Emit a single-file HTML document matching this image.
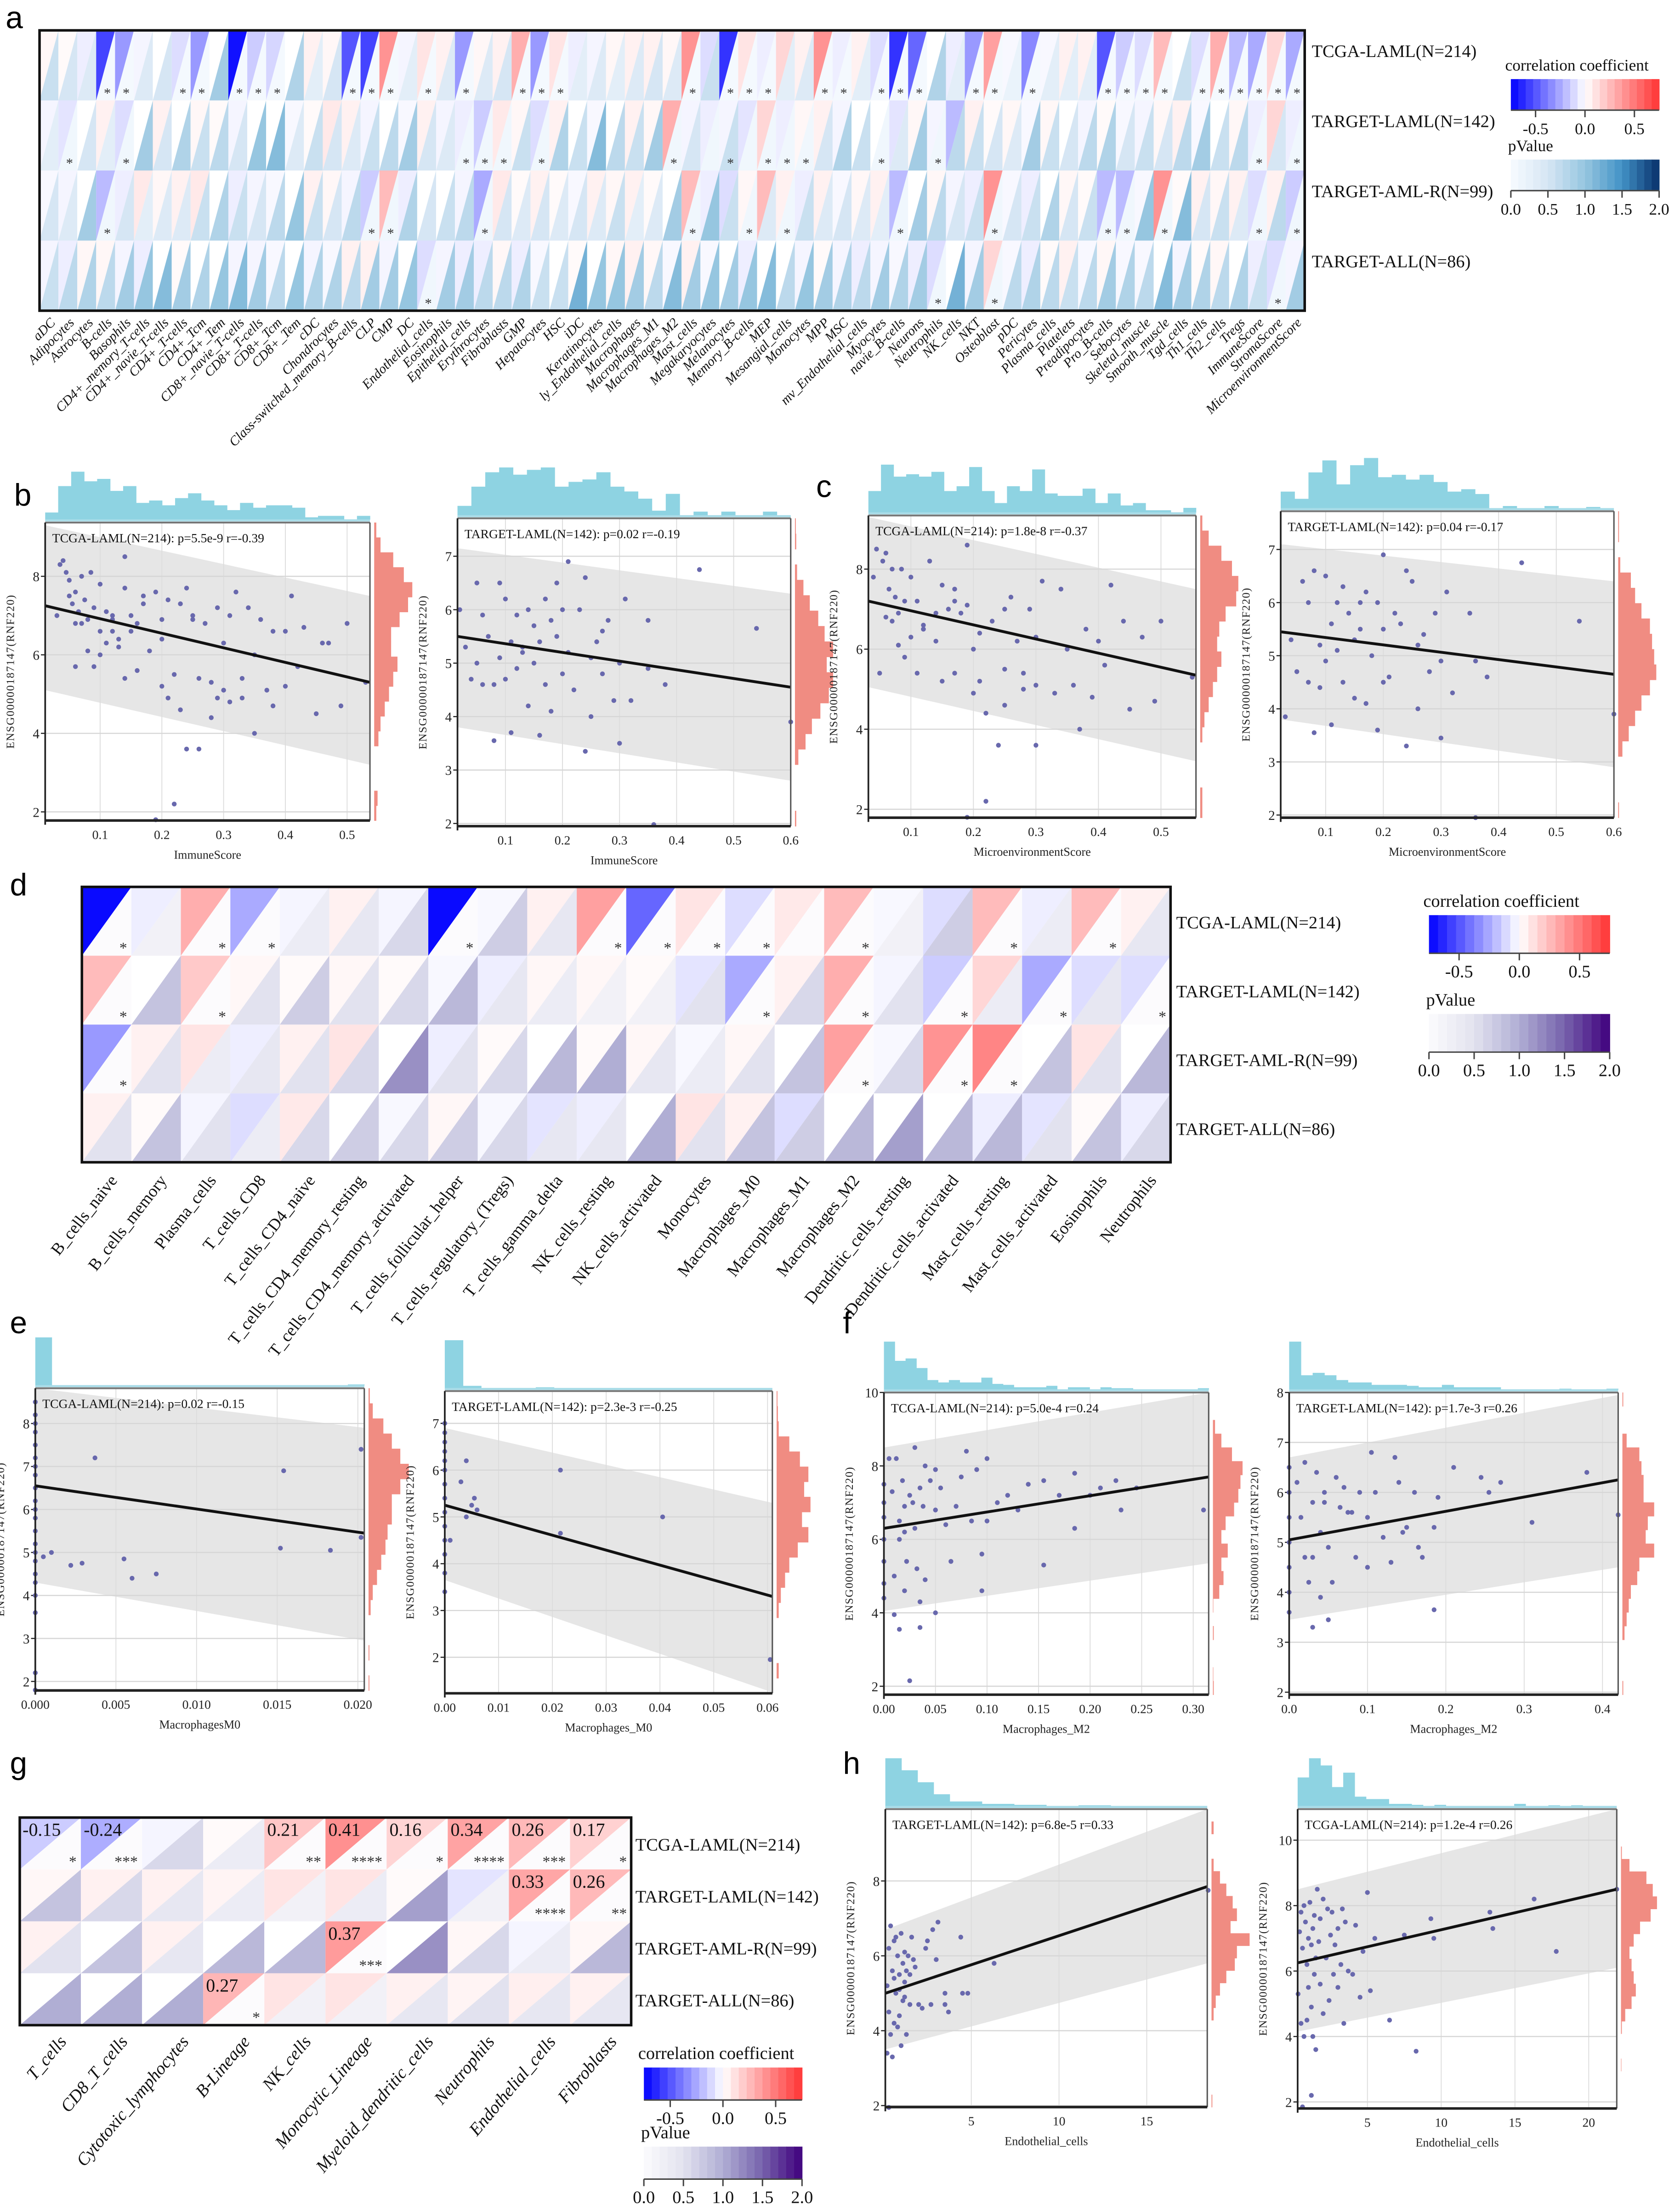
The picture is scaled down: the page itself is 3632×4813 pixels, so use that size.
<!DOCTYPE html>
<html><head><meta charset="utf-8"><style>
html,body{margin:0;padding:0;background:#fff;}
svg{display:block;}
text{font-family:"Liberation Serif",serif;}
.lab{font-family:"Liberation Sans",sans-serif;}
</style></head><body>
<svg id="fig" xmlns="http://www.w3.org/2000/svg" width="3632" height="4813" viewBox="0 0 1182 1566.3" preserveAspectRatio="none">
<rect x="0" y="0" width="1182" height="1566.3" fill="#fff"/>
<text class="lab" x="4" y="20" font-size="22">a</text>
<text class="lab" x="10" y="358" font-size="22">b</text>
<text class="lab" x="578" y="352" font-size="22">c</text>
<text class="lab" x="7" y="634" font-size="22">d</text>
<text class="lab" x="7" y="944" font-size="22">e</text>
<text class="lab" x="597" y="944" font-size="22">f</text>
<text class="lab" x="7" y="1256" font-size="22">g</text>
<text class="lab" x="597" y="1256" font-size="22">h</text>
<g id="layer"></g>
</svg>
<script>
// ---------- Panel a data ----------
const aCats=["aDC","Adipocytes","Astrocytes","B-cells","Basophils","CD4+_memory_T-cells","CD4+_navie_T-cells","CD4+_T-cells","CD4+_Tcm","CD4+_Tem","CD8+_navie_T-cells","CD8+_T-cells","CD8+_Tcm","CD8+_Tem","cDC","Chondrocytes","Class-switched_memory_B-cells","CLP","CMP","DC","Endothelial_cells","Eosinophils","Epithelial_cells","Erythrocytes","Fibroblasts","GMP","Hepatocytes","HSC","iDC","Keratinocytes","ly_Endothelial_cells","Macrophages","Macrophages_M1","Macrophages_M2","Mast_cells","Megakaryocytes","Melanocytes","Memory_B-cells","MEP","Mesangial_cells","Monocytes","MPP","MSC","mv_Endothelial_cells","Myocytes","navie_B-cells","Neurons","Neutrophils","NK_cells","NKT","Osteoblast","pDC","Pericytes","Plasma_cells","Platelets","Preadipocytes","Pro_B-cells","Sebocytes","Skeletal_muscle","Smooth_muscle","Tgd_cells","Th1_cells","Th2_cells","Tregs","ImmuneScore","StromaScore","MicroenvironmentScore"];
const aRows=["TCGA-LAML(N=214)","TARGET-LAML(N=142)","TARGET-AML-R(N=99)","TARGET-ALL(N=86)"];
const aCorr1=[0.03,0.02,-0.05,-0.55,-0.3,-0.03,0,-0.1,-0.3,0,-0.7,-0.15,-0.12,0,0.05,0.03,-0.5,-0.55,0.4,-0.03,0.1,0.05,-0.3,0.03,0.05,0.3,-0.3,0.1,-0.05,-0.03,0.03,0.05,0.05,0.03,0.4,-0.1,-0.6,0.1,-0.05,0.15,0.05,0.4,-0.05,0.05,-0.1,-0.6,-0.45,0,-0.05,-0.3,0.35,-0.02,-0.35,-0.02,0.05,0.05,-0.5,-0.15,-0.1,0.25,0,-0.1,0.3,-0.2,-0.25,0.15,-0.25];
const aCorr2=[-0.03,-0.08,0,0.05,-0.1,0,0.05,0,0.03,0.02,-0.03,0,0,-0.02,0.02,0.08,0.05,-0.03,0,-0.02,0.05,-0.03,-0.05,-0.15,0.08,0.03,-0.1,0.05,0,-0.02,0,0.05,0.03,0.3,-0.03,-0.05,-0.03,-0.08,0.15,-0.05,0.03,0.05,-0.03,0,0,-0.08,0.03,-0.03,-0.2,0.05,0.02,0.03,-0.02,0.03,0,-0.03,0.02,-0.02,-0.03,0.03,0.05,-0.02,0,0.03,-0.05,0.15,-0.05];
const aCorr3=[-0.02,-0.03,0,-0.2,-0.05,0.08,0.03,0.05,0.08,0,-0.05,-0.03,-0.02,0,0.05,0.03,-0.03,-0.15,0.25,-0.05,0,0,-0.03,-0.25,0.08,0.02,0.05,0.02,-0.02,0.05,0.03,0.05,0.02,0,0.25,-0.05,-0.1,0.03,0.25,0.05,-0.05,0.05,-0.02,0.03,0.05,-0.2,0,0.03,-0.03,-0.05,0.4,-0.02,-0.05,0,0.03,0.02,-0.2,-0.2,-0.02,0.4,0.02,0.05,0.03,0.05,-0.1,0.05,-0.15];
const aCorr4=[-0.03,-0.05,0.03,0.03,-0.03,-0.05,0,0.02,0,0,-0.03,-0.03,-0.02,0,-0.03,-0.02,0.05,0.05,-0.03,0,-0.1,-0.03,-0.05,-0.05,0.03,-0.05,-0.02,0,0.02,0,0.03,0.05,0.03,-0.02,0.05,-0.02,0,-0.05,0,0,-0.03,0.02,-0.03,-0.05,-0.03,-0.02,-0.05,-0.1,0,-0.03,0.15,-0.02,-0.05,0.02,0.05,-0.02,0.03,-0.02,-0.02,0,-0.03,0.02,0.03,0,-0.05,-0.1,-0.03];
const aP1=[0.6,0.5,0.4,0.05,0.05,0.4,0.5,0.05,0.05,0.9,0.05,0.05,0.05,0.8,0.3,0.5,0.05,0.05,0.05,0.3,0.05,0.4,0.05,0.4,0.5,0.05,0.05,0.05,0.3,0.4,0.3,0.4,0.5,0.4,0.05,0.6,0.05,0.05,0.05,0.3,0.4,0.05,0.05,0.3,0.05,0.05,0.05,0.8,0.3,0.05,0.05,0.2,0.05,0.3,0.3,0.3,0.05,0.05,0.05,0.05,0.6,0.05,0.05,0.05,0.05,0.05,0.05];
const aP2=[0.3,0.1,0.5,0.3,0.1,0.9,0.5,0.8,0.6,0.7,0.5,1.0,1.1,0.4,0.6,0.5,0.4,0.6,0.7,0.9,0.5,0.4,0.1,0.1,0.1,0.6,0.1,0.8,0.6,1.1,0.7,0.6,0.9,0.1,0.5,0.1,0.6,0.1,0.1,0.1,0.1,0.5,0.8,0.6,0.1,0.4,0.9,0.1,0.7,0.6,0.5,0.4,0.9,0.6,0.5,0.7,0.8,0.5,0.6,0.5,0.7,0.9,0.6,0.7,0.1,0.5,0.1];
const aP3=[0.5,0.4,0.9,0.1,0.5,0.3,0.4,0.4,0.6,0.8,0.6,0.5,0.7,1.0,0.6,0.5,0.7,0.1,0.1,0.8,0.5,0.6,0.7,0.1,0.5,0.4,0.5,0.4,0.5,0.4,0.6,0.3,0.4,0.9,0.1,1.0,0.6,0.1,0.4,0.1,0.6,0.4,0.5,0.4,0.3,0.1,0.9,0.7,0.5,0.6,0.1,0.5,0.6,0.8,0.5,0.6,0.1,0.1,1.0,0.1,1.1,0.5,0.6,0.4,0.1,0.7,0.1];
const aP4=[0.6,0.7,0.8,0.7,0.9,1.0,1.1,0.9,0.8,1.0,1.1,0.9,0.7,1.0,0.8,0.8,0.7,0.9,0.9,1.0,0.1,0.9,0.9,0.7,0.7,0.8,0.6,0.6,1.2,1.0,1.0,0.9,0.7,1.1,0.9,1.0,0.9,1.0,1.1,0.7,1.0,0.9,0.8,0.7,0.9,0.8,0.9,0.1,1.2,0.9,0.1,0.7,0.8,0.7,0.6,0.7,0.9,0.8,0.7,1.1,0.9,0.8,0.7,0.8,0.6,0.1,0.9];
const aStar1=[3,4,7,8,10,11,12,16,17,18,20,22,25,26,27,34,36,37,38,41,42,44,45,46,49,50,52,56,57,58,59,61,62,63,64,65,66];
const aStar2=[1,4,22,23,24,26,33,36,38,39,40,44,47,64,66];
const aStar3=[3,17,18,23,34,37,39,45,50,56,57,59,64,66];
const aStar4=[20,47,50,65];

// ---------- Panel d data ----------
const dCats=["B_cells_naive","B_cells_memory","Plasma_cells","T_cells_CD8","T_cells_CD4_naive","T_cells_CD4_memory_resting","T_cells_CD4_memory_activated","T_cells_follicular_helper","T_cells_regulatory_(Tregs)","T_cells_gamma_delta","NK_cells_resting","NK_cells_activated","Monocytes","Macrophages_M0","Macrophages_M1","Macrophages_M2","Dendritic_cells_resting","Dendritic_cells_activated","Mast_cells_resting","Mast_cells_activated","Eosinophils","Neutrophils"];
const dCorr1=[-0.75,-0.05,0.3,-0.25,-0.03,0.05,-0.03,-0.75,-0.02,0.05,0.35,-0.45,0.1,-0.1,0.08,0.25,-0.02,-0.1,0.25,-0.05,0.25,0.05];
const dCorr2=[0.25,0,0.2,0.03,0.02,0.03,0.02,-0.02,-0.05,0.03,0.03,0.02,-0.08,-0.25,0.05,0.3,-0.03,-0.15,0.15,-0.25,-0.1,-0.1];
const dCorr3=[-0.3,0.05,0.1,-0.05,0.05,0.1,0,-0.05,0.02,0,0.02,0.03,-0.02,0.03,0,0.35,-0.02,0.4,0.45,0,0.1,0];
const dCorr4=[0.05,0.02,-0.03,-0.1,0.08,0,-0.02,0.03,-0.02,-0.08,-0.05,0,0.1,0.05,-0.1,0,0,0,-0.05,-0.08,0.02,-0.05];
const dP1=[0,0.2,0,0,0.3,0.4,0.6,0,0.7,0.4,0,0,0,0,0,0,0.2,0.7,0,0.3,0,0.4];
const dP2=[0,0.8,0,0.5,0.7,0.5,0.6,0.9,0.4,0.3,0.2,0.2,0.5,0,0.6,0,0.5,0,0.3,0,0.4,0];
const dP3=[0,0.5,0.3,0.4,0.5,0.6,1.2,0.5,0.6,0.9,1.0,0.4,0.3,0.5,0.8,0,0.6,0,0,0.8,0.5,0.9];
const dP4=[0.5,0.8,0.5,0.3,0.6,0.7,0.6,0.7,0.6,0.4,0.4,1.0,0.5,0.8,0.7,0.9,1.1,0.9,0.9,0.5,0.8,0.6];
const dStar1=[0,2,3,7,10,11,12,13,15,18,20];
const dStar2=[0,2,13,15,17,19,21];
const dStar3=[0,15,17,18];
const dStar4=[];

// ---------- Panel g data ----------
const gCats=["T_cells","CD8_T_cells","Cytotoxic_lymphocytes","B-Lineage","NK_cells","Monocytic_Lineage","Myeloid_dendritic_cells","Neutrophils","Endothelial_cells","Fibroblasts"];
const gCorr1=[-0.15,-0.24,-0.03,0.02,0.21,0.41,0.16,0.34,0.26,0.17];
const gCorr2=[0.03,0.05,0.05,0.04,0.1,0.1,0.02,-0.08,0.33,0.26];
const gCorr3=[0.05,0,0.05,0,0,0.37,0,0.03,-0.03,0.03];
const gCorr4=[0,0,0,0.27,0.1,0.1,0.05,0.04,0.06,0.05];
const gP1=[0,0,0.6,0.3,0,0,0,0,0,0];
const gP2=[0.8,0.6,0.4,0.3,0.2,0.3,1.1,0.2,0,0];
const gP3=[0.5,0.8,0.4,0.9,0.9,0,1.2,0.6,0.3,0.9];
const gP4=[1.0,1.0,1.0,0,0.2,0.2,0.4,0.5,0.4,0.4];
const gSig1=["*","***","","","**","****","*","****","***","*"];
const gSig2=["","","","","","","","","****","**"];
const gSig3=["","","","","","***","","","",""];
const gSig4=["","","","*","","","","","",""];

// ---------- Scatter data ----------
const b1X=[0.03,0.035,0.04,0.045,0.05,0.05,0.055,0.06,0.06,0.065,0.07,0.07,0.075,0.08,0.085,0.09,0.09,0.1,0.1,0.11,0.11,0.12,0.12,0.13,0.14,0.14,0.14,0.15,0.16,0.16,0.17,0.18,0.19,0.2,0.2,0.21,0.21,0.22,0.23,0.24,0.24,0.25,0.26,0.26,0.27,0.28,0.28,0.29,0.3,0.3,0.31,0.32,0.33,0.34,0.35,0.35,0.36,0.37,0.38,0.38,0.4,0.4,0.41,0.42,0.43,0.45,0.46,0.47,0.49,0.5,0.53,0.22,0.19,0.15,0.25,0.33,0.12,0.08,0.06,0.1,0.13,0.17,0.2,0.23,0.29,0.31];
const b1Y=[7.0,8.3,8.4,8.1,7.9,7.5,7.3,6.8,7.6,7.1,8.0,6.8,7.4,6.9,8.1,7.2,5.7,7.8,6.6,7.1,6.3,6.9,7.0,6.4,8.5,7.7,5.4,7.0,6.8,5.6,7.5,6.1,7.6,6.4,5.2,7.4,4.9,5.5,4.6,7.7,3.6,7.0,3.6,5.4,6.8,5.3,4.4,7.2,6.3,5.1,7.0,7.6,4.9,7.2,6.0,4.0,6.9,5.1,6.6,4.7,6.6,5.2,7.5,5.7,6.7,4.5,6.3,6.3,4.7,6.8,5.3,2.2,1.8,6.6,6.9,5.4,6.6,6.1,5.7,6.0,6.2,7.3,6.9,7.3,4.9,4.8];
const b1Top=[0.15,0.7,1,0.8,0.85,0.6,0.7,0.35,0.4,0.3,0.45,0.55,0.4,0.3,0.2,0.35,0.25,0.3,0.3,0.25,0.05,0.08,0.08,0,0.08];
const b1Right=[0.05,0.08,0,0,0,0.1,0.15,0.25,0.35,0.45,0.55,0.4,0.4,0.6,0.8,0.9,0.7,0.45,0.15,0.05];
const b1Line=[7.25,5.3], b1Up=[9.3,7.5], b1Lo=[5.1,3.2];

const b2X=[0.02,0.03,0.04,0.05,0.05,0.06,0.07,0.08,0.08,0.09,0.09,0.1,0.1,0.11,0.11,0.12,0.12,0.13,0.14,0.14,0.15,0.15,0.16,0.16,0.17,0.17,0.18,0.18,0.19,0.2,0.2,0.21,0.22,0.23,0.24,0.24,0.25,0.25,0.26,0.27,0.28,0.29,0.3,0.3,0.31,0.32,0.35,0.35,0.38,0.44,0.54,0.36,0.6,0.21,0.06,0.13,0.19,0.27];
const b2Y=[6.0,5.3,4.7,6.5,5.0,5.9,5.5,3.55,4.6,6.5,5.1,6.2,4.7,5.4,3.7,5.9,4.9,5.3,6.0,4.2,5.7,5.0,5.4,3.65,6.2,4.6,5.8,4.1,6.5,6.0,4.8,5.2,4.5,6.0,6.6,3.35,5.1,4.0,5.4,4.8,5.8,4.3,5.0,3.5,6.2,4.3,5.8,4.9,4.6,6.75,5.65,1.98,3.9,6.9,4.6,5.2,5.5,5.6];
const b2Top=[0.2,0.6,0.9,1,0.85,0.95,1,0.6,0.7,0.75,0.9,0.6,0.5,0.35,0.1,0.45,0,0.08,0,0.08,0,0,0.08,0];
const b2Right=[0.03,0,0,0,0.08,0.25,0.4,0.6,0.8,0.9,0.75,0.9,0.7,0.55,0.35,0.2,0.05,0,0.03,0.02];
const b2Line=[5.5,4.55], b2Up=[7.15,6.3], b2Lo=[3.8,2.8];

const c1X=[0.04,0.045,0.05,0.055,0.06,0.06,0.065,0.07,0.07,0.075,0.08,0.085,0.09,0.09,0.1,0.1,0.11,0.11,0.12,0.12,0.13,0.14,0.15,0.15,0.16,0.17,0.17,0.18,0.19,0.19,0.2,0.2,0.21,0.21,0.22,0.23,0.24,0.25,0.25,0.26,0.27,0.28,0.29,0.3,0.3,0.31,0.33,0.34,0.35,0.36,0.37,0.38,0.39,0.4,0.41,0.42,0.44,0.45,0.47,0.49,0.5,0.55,0.22,0.19,0.25,0.3,0.14,0.08,0.12,0.17,0.28];
const c1Y=[7.8,8.5,5.4,8.2,8.4,6.8,7.5,8.0,6.7,7.3,6.9,8.0,7.2,5.8,7.8,6.3,7.2,5.4,6.5,6.6,8.2,6.9,7.6,5.2,7.0,5.4,7.5,6.9,7.1,8.6,6.0,4.9,6.4,5.2,4.4,6.7,3.6,5.5,4.6,7.3,6.2,5.4,7.0,6.3,5.1,7.7,4.9,7.5,6.0,5.1,4.0,6.5,4.8,6.2,5.6,7.6,6.7,4.5,6.3,4.7,6.7,5.3,2.2,1.8,7.0,3.6,6.2,6.1,6.5,7.2,5.0];
const c1Top=[0.45,1,0.75,0.8,0.75,0.85,0.45,0.55,0.95,0.45,0.2,0.55,0.45,0.9,0.4,0.35,0.35,0.5,0.2,0.4,0.15,0.2,0.05,0.05,0,0.1];
const c1Right=[0.05,0.05,0,0,0,0.05,0.1,0.2,0.3,0.4,0.5,0.4,0.45,0.6,0.85,0.9,0.75,0.5,0.2,0.05];
const c1Line=[7.2,5.35], c1Up=[9.3,7.5], c1Lo=[5.05,3.2];

const c2X=[0.03,0.04,0.05,0.06,0.07,0.07,0.08,0.08,0.09,0.09,0.1,0.1,0.11,0.11,0.12,0.13,0.13,0.14,0.15,0.15,0.16,0.16,0.17,0.17,0.18,0.19,0.19,0.2,0.2,0.21,0.22,0.23,0.24,0.24,0.25,0.26,0.27,0.28,0.29,0.3,0.3,0.31,0.32,0.35,0.36,0.38,0.44,0.54,0.36,0.6,0.2,0.12,0.26];
const c2Y=[3.85,5.3,4.7,6.4,6.0,4.5,3.55,6.6,5.2,4.4,6.5,4.9,3.7,5.6,6.0,4.5,6.3,5.8,5.3,4.2,5.5,6.0,4.1,6.2,5.0,6.0,3.6,6.9,5.5,4.6,5.8,5.6,6.6,3.3,6.4,4.0,5.4,4.7,5.8,3.45,4.9,6.2,4.3,5.8,4.9,4.6,6.75,5.65,1.95,3.9,4.5,5.1,5.2];
const c2Top=[0.35,0.2,0.75,1,0.5,0.9,1.05,0.65,0.7,0.6,0.7,0.55,0.35,0.4,0.3,0,0.05,0,0,0.05,0,0,0.03,0];
const c2Right=[0.02,0,0,0,0.1,0.25,0.4,0.55,0.75,0.9,0.85,0.8,0.75,0.55,0.4,0.3,0.05,0,0.02,0.02];
const c2Line=[5.45,4.65], c2Up=[7.1,6.4], c2Lo=[3.8,2.9];

const e1X=[0,0,0,0,0,0,0,0,0,0,0,0,0,0,0,0,0,0,0,0,0,0,0.0005,0.001,0.0022,0.0029,0.0037,0.0055,0.006,0.0075,0.0152,0.0154,0.0183,0.0202,0.0202];
const e1Y=[8.5,8.2,8.0,7.8,7.5,7.2,7.0,6.8,6.5,6.2,6.0,5.8,5.5,5.2,5.0,4.8,4.5,4.3,4.0,3.6,2.2,1.8,4.9,5.0,4.7,4.75,7.2,4.85,4.4,4.5,5.1,6.9,5.05,7.4,5.35];
const e1Top=[1,0,0,0,0,0,0,0,0,0,0,0,0,0,0,0,0,0,0,0.02];
const e1Right=[0.02,0,0.02,0,0,0.05,0.1,0.2,0.3,0.4,0.45,0.55,0.55,0.75,0.95,0.75,0.55,0.35,0.1,0.03];
const e1Line=[6.55,5.45], e1Up=[8.9,7.9], e1Lo=[4.3,2.95];

const e2X=[0,0,0,0,0,0,0,0,0,0,0,0,0,0,0.001,0.003,0.004,0.004,0.005,0.0055,0.006,0.0215,0.0215,0.0405,0.0605];
const e2Y=[7.0,6.8,6.6,6.4,6.2,6.0,5.7,5.4,5.1,4.8,4.5,4.2,3.8,3.4,4.5,5.75,6.2,5.0,5.25,5.4,5.15,6.0,4.65,5.0,1.95];
const e2Top=[1,0.05,0,0,0,0.02,0,0,0,0,0,0,0,0,0,0,0,0];
const e2Right=[0,0.05,0,0,0,0.05,0.1,0.2,0.3,0.5,0.75,0.6,0.8,0.65,0.75,0.55,0.3,0.05,0.03,0.02];
const e2Line=[5.25,3.3], e2Up=[6.9,5.3], e2Lo=[3.65,1.25];

const f1X=[0,0,0,0,0,0,0,0.005,0.008,0.01,0.01,0.012,0.015,0.015,0.018,0.02,0.02,0.022,0.025,0.025,0.028,0.03,0.03,0.032,0.035,0.035,0.038,0.04,0.04,0.045,0.05,0.05,0.055,0.06,0.065,0.07,0.075,0.08,0.085,0.09,0.095,0.1,0.1,0.11,0.12,0.13,0.14,0.155,0.155,0.17,0.185,0.185,0.2,0.21,0.225,0.23,0.245,0.31,0.02,0.015,0.05,0.035,0.095];
const f1Y=[7.5,7.0,6.6,6.0,5.4,4.8,4.4,8.2,7.3,3.95,5.0,8.2,6.5,3.55,7.6,6.9,4.6,5.4,7.2,2.15,7.0,8.5,6.3,5.2,7.4,3.6,6.9,8.0,4.9,7.6,7.9,4.0,7.4,6.4,5.4,6.9,7.7,8.4,6.5,7.9,5.6,6.5,8.2,7.0,7.2,6.8,7.5,7.6,5.3,7.2,7.8,6.3,7.2,7.4,7.6,6.8,7.4,6.8,6.2,6.0,6.8,4.3,4.6];
const f1Top=[1,0.6,0.65,0.45,0.2,0.15,0.2,0.15,0.15,0.25,0.12,0.1,0.05,0.05,0.05,0.08,0,0.05,0.05,0,0.05,0.03,0.03,0,0,0,0,0,0,0.03];
const f1Right=[0.02,0.01,0,0,0.02,0,0.01,0.15,0.25,0.2,0.35,0.2,0.3,0.5,0.6,0.65,0.7,0.45,0.2,0.05,0,0];
const f1Line=[6.3,7.7], f1Up=[8.5,10], f1Lo=[4.05,5.35];

const f2X=[0,0,0,0,0,0,0,0.01,0.015,0.02,0.02,0.025,0.03,0.03,0.035,0.04,0.04,0.045,0.05,0.05,0.055,0.06,0.065,0.07,0.075,0.08,0.085,0.09,0.1,0.1,0.105,0.11,0.12,0.13,0.135,0.14,0.145,0.15,0.16,0.165,0.17,0.185,0.185,0.19,0.21,0.245,0.255,0.27,0.31,0.38,0.42,0.03,0.045];
const f2Y=[6.5,6.0,5.5,5.0,4.5,4.0,3.6,6.2,5.5,6.6,4.7,4.2,5.8,3.3,6.4,5.2,3.9,6.0,4.9,3.45,4.2,6.3,5.7,6.1,5.6,5.6,4.7,6.0,5.5,4.5,6.8,6.0,5.1,4.6,6.7,6.2,5.2,5.3,6.0,4.9,4.7,5.3,3.65,5.9,6.5,6.3,6.0,6.2,5.4,6.4,5.55,4.7,5.8];
const f2Top=[1,0.3,0.35,0.3,0.2,0.15,0.15,0.1,0.1,0.1,0.08,0.05,0.05,0.1,0.05,0.05,0.05,0.05,0,0,0,0,0,0.02,0,0,0,0.02];
const f2Right=[0.02,0,0,0,0.05,0.1,0.15,0.2,0.35,0.4,0.75,0.55,0.6,0.75,0.5,0.5,0.45,0.4,0.1,0,0,0.02];
const f2Line=[5.05,6.25], f2Up=[6.7,7.95], f2Lo=[3.45,4.5];

const h1X=[0.2,0.2,0.3,0.3,0.4,0.4,0.5,0.5,0.6,0.6,0.7,0.7,0.8,0.8,0.9,0.9,1.0,1.0,1.1,1.1,1.2,1.2,1.3,1.3,1.4,1.5,1.5,1.6,1.7,1.8,2.0,2.2,2.4,2.5,2.7,2.8,3.0,3.1,3.5,3.5,3.7,4.4,4.5,4.8,6.3,18.5,0.3,0.6,0.9,1.2];
const h1Y=[3.4,5.2,6.2,4.5,6.8,3.9,3.3,5.6,6.4,4.2,6.5,5.0,4.1,6.0,5.5,4.4,6.6,3.6,5.8,4.8,6.1,5.3,3.9,5.6,6.0,4.7,5.5,6.5,5.9,5.7,4.7,4.6,6.2,6.4,4.7,6.7,5.9,6.9,5.0,4.7,4.5,6.5,5.0,5.0,5.8,7.75,1.95,5.4,5.1,4.9];
const h1Top=[1,0.75,0.5,0.25,0.1,0.1,0.05,0.05,0.03,0.03,0,0,0.02,0.02,0,0,0,0,0,0];
const h1Right=[0.02,0,0,0,0,0,0,0.05,0.1,0.2,0.35,0.55,0.6,0.9,0.45,0.6,0.5,0.35,0.2,0.05,0,0,0.05,0];
const h1Line=[5.0,7.85], h1Up=[6.7,9.95], h1Lo=[3.5,5.8];

const h2X=[0.3,0.4,0.5,0.5,0.6,0.7,0.7,0.8,0.9,0.9,1.0,1.0,1.1,1.2,1.2,1.3,1.4,1.4,1.5,1.5,1.6,1.7,1.8,1.8,2.0,2.0,2.2,2.3,2.4,2.5,2.6,2.7,2.8,3.0,3.0,3.2,3.3,3.4,3.5,3.7,4.0,4.2,4.5,4.7,5.0,5.2,5.5,6.5,7.5,8.3,9.3,9.5,13.3,13.5,16.3,17.8,21.9,1.2,0.6,1.3];
const h2Y=[5.3,7.2,4.4,7.8,6.7,4.0,8.0,7.5,6.2,4.5,7.0,5.5,8.1,6.8,4.9,7.3,5.9,7.7,6.4,3.6,8.5,6.9,5.6,7.6,8.2,4.7,6.4,7.9,5.1,7.1,7.8,5.9,6.8,7.3,5.5,6.2,7.9,4.4,7.5,6.0,5.9,7.4,5.2,6.6,8.4,5.4,7.0,4.5,7.1,3.55,7.6,7.0,7.8,7.3,8.2,6.6,8.5,2.2,1.85,4.0];
const h2Top=[0.6,1,0.85,0.4,0.7,0.2,0.15,0.15,0.05,0.05,0.03,0,0.03,0,0,0,0,0,0,0.05,0,0,0.02,0,0.02,0,0,0];
const h2Right=[0,0,0,0.01,0,0,0.02,0.1,0.25,0.35,0.3,0.25,0.2,0.3,0.45,0.7,0.85,0.75,0.6,0.2,0.02,0,0,0];
const h2Line=[6.25,8.5], h2Up=[8.5,10.95], h2Lo=[4.15,6.1];

// ---------- helpers ----------
const NS="http://www.w3.org/2000/svg";
const layer=document.getElementById('layer');
function mk(tag,attrs,parent){const e=document.createElementNS(NS,tag);for(const k in attrs)e.setAttribute(k,attrs[k]);(parent||layer).appendChild(e);return e;}
function mix(c1,c2,t){return 'rgb('+c1.map((v,i)=>Math.round(v+(c2[i]-v)*t)).join(',')+')';}
function corrColor(v){const t=Math.min(1,Math.abs(v)/0.72);return v<0?mix([255,255,255],[10,10,255],t):mix([255,255,255],[255,60,60],t);}
function ramp(stops,v){const t=Math.max(0,Math.min(2,v))/2*(stops.length-1);const i=Math.min(stops.length-2,Math.floor(t));return mix(stops[i],stops[i+1],t-i);}
const blueStops=[[247,251,255],[214,230,244],[150,198,224],[66,146,198],[8,48,107]];
const purpStops=[[252,251,253],[226,226,239],[176,174,212],[118,98,172],[63,0,125]];

function heat(cfg){
  const g=mk('g',{});
  
  
  const nc=cfg.cats.length,nr=cfg.corr.length;
  const cw=(cfg.x1-cfg.x0)/nc,rh=(cfg.y1-cfg.y0)/nr;
  for(let r=0;r<nr;r++)for(let c=0;c<nc;c++){
    const x=cfg.x0+c*cw,y=cfg.y0+r*rh;
    const t1=mk('polygon',{points:`${x},${y} ${x+cw},${y} ${x},${y+rh}`,fill:corrColor(cfg.corr[r][c])},g);
    
    
    const t2=mk('polygon',{points:`${x+cw},${y} ${x+cw},${y+rh} ${x},${y+rh}`,fill:ramp(cfg.stops,cfg.p[r][c])},g);
    
    
    let sig='';
    if(cfg.stars){if(cfg.stars[r].includes(c))sig='*';}
    if(cfg.sig){sig=cfg.sig[r][c];}
    if(sig){const s=mk('text',{x:x+cw-3,y:y+rh-2,'font-size':cfg.starSize,'text-anchor':'end',fill:'#333'},g);s.textContent=sig;
      
      }
    if(cfg.showVal&&sig){const s=mk('text',{x:x+2,y:y+13,'font-size':13,fill:'#111'},g);s.textContent=cfg.corr[r][c].toFixed(2);
      
      }
  }
  const bd=mk('rect',{x:cfg.x0,y:cfg.y0,width:cfg.x1-cfg.x0,height:cfg.y1-cfg.y0,fill:'none',stroke:'#111','stroke-width':1.8},g);
  
  
  cfg.rows.forEach((lab,r)=>{const t=mk('text',{x:cfg.x1+cfg.rowDx,y:cfg.y0+(r+0.5)*rh+cfg.rowDy,'font-size':cfg.rowSize,fill:'#111'},g);t.textContent=lab;
    
    });
  cfg.cats.forEach((lab,c)=>{const cx=cfg.x0+(c+0.5)*cw+cfg.colDx,cy=cfg.y1+cfg.colDy;
    const t=mk('text',{x:cx,y:cy,'font-size':cfg.colSize,'text-anchor':'end','font-style':cfg.italic?'italic':'normal',transform:`rotate(${cfg.rot} ${cx} ${cy})`,fill:'#111'},g);t.textContent=lab;
    
    });
}

function legend(x,y,w,bh,fs,stops,gap){
  const g=mk('g',{});
  
  
  let t=mk('text',{x:x-4,y:y,'font-size':fs,fill:'#111'},g);t.textContent='correlation coefficient';
  const by=y+6;const n=20;
  for(let i=0;i<n;i++){const v=-0.75+1.5*(i+0.5)/n;mk('rect',{x:x+i*w/n,y:by,width:w/n+0.3,height:bh,fill:corrColor(v)},g);}
  mk('line',{x1:x,y1:by+bh,x2:x+w,y2:by+bh,stroke:'#444','stroke-width':1},g);
  [-0.5,0,0.5].forEach(v=>{const tx=x+(v+0.75)/1.5*w;mk('line',{x1:tx,y1:by+bh,x2:tx,y2:by+bh+5,stroke:'#444'},g);
    const tt=mk('text',{x:tx,y:by+bh+17,'font-size':fs,'text-anchor':'middle',fill:'#111'},g);tt.textContent=v.toFixed(1);});
  const py=by+bh+gap;
  t=mk('text',{x:x-2,y:py,'font-size':fs,fill:'#111'},g);t.textContent='pValue';
  const pb=py+6;
  for(let i=0;i<n;i++){mk('rect',{x:x+i*w/n,y:pb,width:w/n+0.3,height:bh,fill:ramp(stops,2*(i+0.5)/n)},g);}
  mk('line',{x1:x,y1:pb+bh,x2:x+w,y2:pb+bh,stroke:'#444','stroke-width':1},g);
  [0,0.5,1,1.5,2].forEach(v=>{const tx=x+v/2*w;mk('line',{x1:tx,y1:pb+bh,x2:tx,y2:pb+bh+5,stroke:'#444'},g);
    const tt=mk('text',{x:tx,y:pb+bh+17,'font-size':fs,'text-anchor':'middle',fill:'#111'},g);tt.textContent=v.toFixed(1);});
}

function scatter(c){
  const g=mk('g',{});
  
  
  const sx=v=>c.x0+(v-c.xd[0])/(c.xd[1]-c.xd[0])*(c.x1-c.x0);
  const sy=v=>c.y1-(v-c.yd[0])/(c.yd[1]-c.yd[0])*(c.y1-c.y0);
  const band=mk('polygon',{points:`${c.x0},${Math.max(c.y0,sy(c.up[0]))} ${c.x1},${Math.max(c.y0,sy(c.up[1]))} ${c.x1},${sy(c.lo[1])} ${c.x0},${sy(c.lo[0])}`,fill:'#e6e6e6'},g);
  
  
  c.xt.forEach(v=>{mk('line',{x1:sx(v),y1:c.y0,x2:sx(v),y2:c.y1,stroke:'#dcdcdc','stroke-width':0.6},g);
    const t=mk('text',{x:sx(v),y:c.y1+13,'font-size':9,'text-anchor':'middle',fill:'#222'},g);t.textContent=c.xf(v);
    
    });
  c.yt.forEach(v=>{mk('line',{x1:c.x0,y1:sy(v),x2:c.x1,y2:sy(v),stroke:'#d6d6d6','stroke-width':0.8},g);
    mk('line',{x1:c.x0-3,y1:sy(v),x2:c.x0,y2:sy(v),stroke:'#222','stroke-width':0.8},g);
    const t=mk('text',{x:c.x0-4,y:sy(v)+3.5,'font-size':9.5,'text-anchor':'end',fill:'#222'},g);t.textContent=v;
    
    });
  const nb=c.top.length,bw=(c.x1-c.x0)/nb;
  c.top.forEach((h,i)=>{if(h>0){const r=mk('rect',{x:c.x0+i*bw,y:c.y0-2-h*34,width:bw+0.2,height:h*34,fill:'#8ed3e2'},g);
    
    }});
  mk('line',{x1:c.x0,y1:c.y0-1.5,x2:c.x1,y2:c.y0-1.5,stroke:'#a8dce8','stroke-width':1.5},g);
  const nr=c.right.length,bh=(c.y1-c.y0)/nr;
  c.right.forEach((w,i)=>{if(w>0){const r=mk('rect',{x:c.x1+3,y:c.y1-(i+1)*bh,width:w*30,height:bh+0.2,fill:'#f08c82'},g);
    
    }});
  c.xs.forEach((xv,i)=>{const p=mk('circle',{cx:sx(xv),cy:sy(c.ys[i]),r:1.7,fill:'#6868ad'},g);
    
    });
  const ln=mk('line',{x1:c.x0,y1:sy(c.line[0]),x2:c.x1,y2:sy(c.line[1]),stroke:'#111','stroke-width':2},g);
  
  
  mk('line',{x1:c.x0,y1:c.y0,x2:c.x1,y2:c.y0,stroke:'#777','stroke-width':1.3},g);
  mk('line',{x1:c.x1,y1:c.y0,x2:c.x1,y2:c.y1,stroke:'#555','stroke-width':1},g);
  mk('line',{x1:c.x0,y1:c.y0,x2:c.x0,y2:c.y1+3,stroke:'#222','stroke-width':1.2},g);
  mk('line',{x1:c.x0,y1:c.y1,x2:c.x1,y2:c.y1,stroke:'#222','stroke-width':1.8},g);
  let t=mk('text',{x:c.x0+5,y:c.y0+14,'font-size':9,fill:'#111'},g);t.textContent=c.title;
  
  
  const yc=(c.y0+c.y1)/2;
  t=mk('text',{x:c.x0-22,y:yc,'font-size':8,'text-anchor':'middle',transform:`rotate(-90 ${c.x0-22} ${yc})`,fill:'#222','letter-spacing':'0.5'},g);t.textContent='ENSG00000187147(RNF220)';
  
  
  t=mk('text',{x:(c.x0+c.x1)/2,y:c.y1+27,'font-size':8.5,'text-anchor':'middle',fill:'#222'},g);t.textContent=c.xlab;
  
  
}

// ---------- draw ----------
heat({name:'heatmap-a',cats:aCats,rows:aRows,corr:[aCorr1,aCorr2,aCorr3,aCorr4],p:[aP1,aP2,aP3,aP4],stars:[aStar1,aStar2,aStar3,aStar4],stops:blueStops,
  x0:28,x1:924,y0:21.5,y1:220,rowDx:5,rowDy:-6,rowSize:12.5,colDx:5,colDy:9,colSize:9.5,italic:true,rot:-45,starSize:10});
legend(1070,50,105,22,11.5,blueStops,29);
heat({name:'heatmap-d',cats:dCats,rows:aRows,corr:[dCorr1,dCorr2,dCorr3,dCorr4],p:[dP1,dP2,dP3,dP4],stars:[dStar1,dStar2,dStar3,dStar4],stops:purpStops,
  x0:58,x1:829,y0:628,y1:823,rowDx:4,rowDy:5,rowSize:12.5,colDx:8,colDy:13,colSize:12,italic:false,rot:-52,starSize:11});
legend(1012,642,128,27,12.5,purpStops,37);
heat({name:'heatmap-g',cats:gCats,rows:aRows,corr:[gCorr1,gCorr2,gCorr3,gCorr4],p:[gP1,gP2,gP3,gP4],sig:[gSig1,gSig2,gSig3,gSig4],showVal:true,stops:purpStops,
  x0:14,x1:447,y0:1287,y1:1434,rowDx:3,rowDy:5,rowSize:12.5,colDx:12,colDy:12,colSize:12.5,italic:true,rot:-50,starSize:11});
legend(456,1458,112,23,12.5,purpStops,27);

const fx2=v=>v.toFixed(1), fx3=v=>v.toFixed(2), fx4=v=>v.toFixed(3), fint=v=>String(v);
scatter({name:'scatter-b-tcga',x0:32,x1:262,y0:370,y1:581,xd:[0.011,0.537],yd:[1.78,9.37],xt:[0.1,0.2,0.3,0.4,0.5],yt:[2,4,6,8],xf:fx2,xs:b1X,ys:b1Y,top:b1Top,right:b1Right,line:b1Line,up:b1Up,lo:b1Lo,title:'TCGA-LAML(N=214): p=5.5e-9 r=-0.39',xlab:'ImmuneScore'});
scatter({name:'scatter-b-target',x0:324,x1:560,y0:367,y1:585,xd:[0.016,0.6],yd:[1.95,7.71],xt:[0.1,0.2,0.3,0.4,0.5,0.6],yt:[2,3,4,5,6,7],xf:fx2,xs:b2X,ys:b2Y,top:b2Top,right:b2Right,line:b2Line,up:b2Up,lo:b2Lo,title:'TARGET-LAML(N=142): p=0.02 r=-0.19',xlab:'ImmuneScore'});
scatter({name:'scatter-c-tcga',x0:615,x1:847,y0:365,y1:579,xd:[0.032,0.556],yd:[1.79,9.34],xt:[0.1,0.2,0.3,0.4,0.5],yt:[2,4,6,8],xf:fx2,xs:c1X,ys:c1Y,top:c1Top,right:c1Right,line:c1Line,up:c1Up,lo:c1Lo,title:'TCGA-LAML(N=214): p=1.8e-8 r=-0.37',xlab:'MicroenvironmentScore'});
scatter({name:'scatter-c-target',x0:907,x1:1143,y0:362,y1:579,xd:[0.022,0.6],yd:[1.95,7.72],xt:[0.1,0.2,0.3,0.4,0.5,0.6],yt:[2,3,4,5,6,7],xf:fx2,xs:c2X,ys:c2Y,top:c2Top,right:c2Right,line:c2Line,up:c2Up,lo:c2Lo,title:'TARGET-LAML(N=142): p=0.04 r=-0.17',xlab:'MicroenvironmentScore'});
scatter({name:'scatter-e-tcga',x0:25,x1:258,y0:983,y1:1197,xd:[0,0.0204],yd:[1.79,8.82],xt:[0,0.005,0.01,0.015,0.02],yt:[2,3,4,5,6,7,8],xf:fx4,xs:e1X,ys:e1Y,top:e1Top,right:e1Right,line:e1Line,up:e1Up,lo:e1Lo,title:'TCGA-LAML(N=214): p=0.02 r=-0.15',xlab:'MacrophagesM0'});
scatter({name:'scatter-e-target',x0:315,x1:547,y0:985,y1:1199,xd:[0,0.0609],yd:[1.23,7.69],xt:[0,0.01,0.02,0.03,0.04,0.05,0.06],yt:[2,3,4,5,6,7],xf:fx3,xs:e2X,ys:e2Y,top:e2Top,right:e2Right,line:e2Line,up:e2Up,lo:e2Lo,title:'TARGET-LAML(N=142): p=2.3e-3 r=-0.25',xlab:'Macrophages_M0'});
scatter({name:'scatter-f-tcga',x0:626,x1:856,y0:986,y1:1200,xd:[0,0.315],yd:[1.77,10],xt:[0,0.05,0.1,0.15,0.2,0.25,0.3],yt:[2,4,6,8,10],xf:fx3,xs:f1X,ys:f1Y,top:f1Top,right:f1Right,line:f1Line,up:f1Up,lo:f1Lo,title:'TCGA-LAML(N=214): p=5.0e-4 r=0.24',xlab:'Macrophages_M2'});
scatter({name:'scatter-f-target',x0:913,x1:1146,y0:986,y1:1200,xd:[0,0.42],yd:[1.95,8],xt:[0,0.1,0.2,0.3,0.4],yt:[2,3,4,5,6,7,8],xf:fx2,xs:f2X,ys:f2Y,top:f2Top,right:f2Right,line:f2Line,up:f2Up,lo:f2Lo,title:'TARGET-LAML(N=142): p=1.7e-3 r=0.26',xlab:'Macrophages_M2'});
scatter({name:'scatter-h-target',x0:627,x1:855,y0:1281,y1:1492,xd:[0.1,18.45],yd:[1.96,9.92],xt:[5,10,15],yt:[2,4,6,8],xf:fint,xs:h1X,ys:h1Y,top:h1Top,right:h1Right,line:h1Line,up:h1Up,lo:h1Lo,title:'TARGET-LAML(N=142): p=6.8e-5 r=0.33',xlab:'Endothelial_cells'});
scatter({name:'scatter-h-tcga',x0:919,x1:1145,y0:1281,y1:1493,xd:[0.27,21.9],yd:[1.8,10.95],xt:[5,10,15,20],yt:[2,4,6,8,10],xf:fint,xs:h2X,ys:h2Y,top:h2Top,right:h2Right,line:h2Line,up:h2Up,lo:h2Lo,title:'TCGA-LAML(N=214): p=1.2e-4 r=0.26',xlab:'Endothelial_cells'});
</script>
</body></html>
